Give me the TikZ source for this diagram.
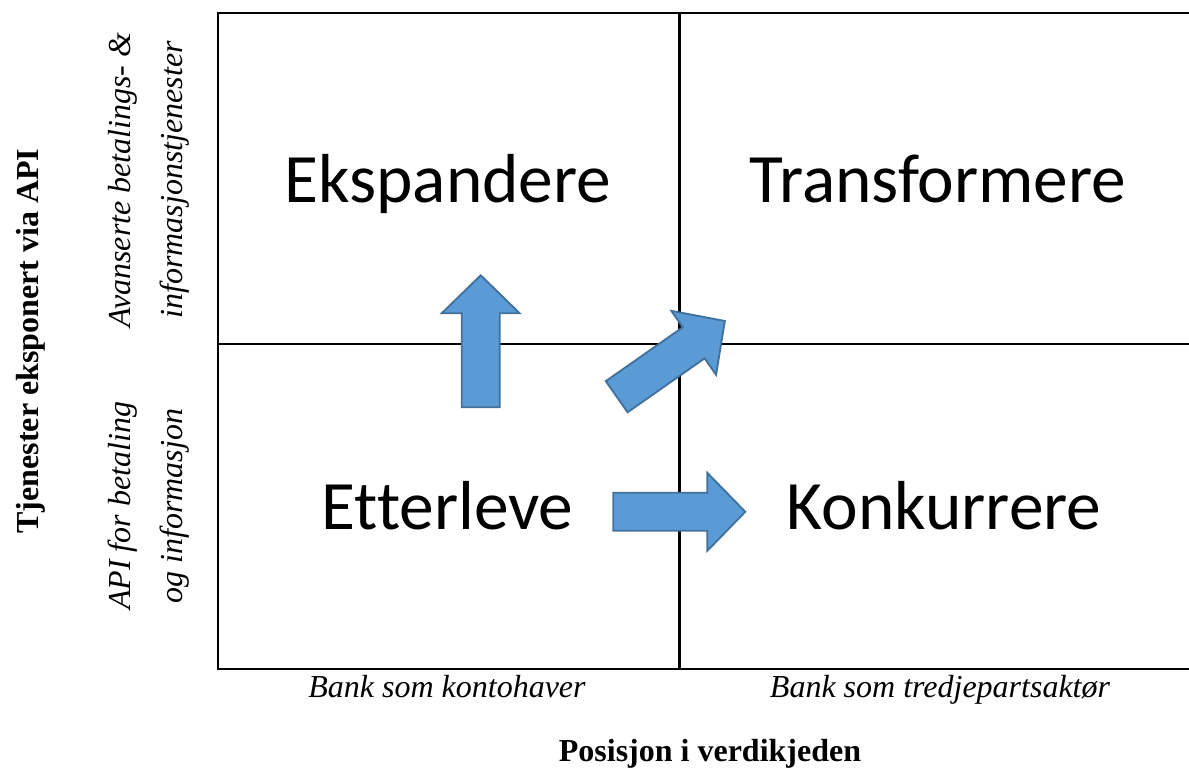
\documentclass[tikz,border=0pt]{standalone}
\usepackage{fontspec}
\setmainfont{Liberation Serif}
\newfontfamily\quadfont[Ligatures=NoCommon]{Carlito}
\definecolor{arrowfill}{HTML}{5B9BD5}
\definecolor{arrowline}{HTML}{41719C}
\begin{document}
\begin{tikzpicture}[x=0.75pt,y=-0.75pt,
  gridline/.style={line width=1.9pt,black},
  quadlabel/.style={font=\quadfont\fontsize{52}{62}\selectfont, anchor=base, inner sep=0pt},
  axislabel/.style={font=\fontsize{24}{29}\selectfont\itshape, anchor=base, inner sep=0pt},
  axistitle/.style={font=\fontsize{24}{29}\selectfont\bfseries, anchor=base, inner sep=0pt},
  movearrow/.style={fill=arrowfill, draw=arrowline, line width=1.4pt, line join=miter},
  fatarrow/.pic={\path[movearrow] (0,-19) -- (94,-19) -- (94,-39) -- (132,0)
      -- (94,39) -- (94,19) -- (0,19) -- cycle;}
]
\useasboundingbox (0,0) rectangle (1189,769);

% matrix frame (open on the right)
\draw[gridline] (1189,13) -- (218,13) -- (218,669) -- (1189,669);
\draw[gridline] (218,344) -- (1189,344);
\draw[gridline] (679.5,13) -- (679.5,669);

% quadrant names
\node[quadlabel] (ekspandere)   at (448,202) {Ekspandere};
\node[quadlabel] (transformere) at (938,202) {Transformere};
\node[quadlabel] (etterleve)    at (447.5,529) {Etterleve};
\node[quadlabel] (konkurrere)   at (944,529)   {Konkurrere};

% movement arrows
\pic[rotate=90] (opp)    at (480.7,407.3) {fatarrow};
\pic[rotate=35] (skraa)  at (616.7,396.7) {fatarrow};
\pic            (hoyre)  at (613.3,511.8) {fatarrow};

% horizontal axis
\node[axislabel] (kontohaver) at (447,697) {Bank som kontohaver};
\node[axislabel] (tredjepart) at (940,697) {Bank som tredjepartsaktør};
\node[axistitle] (xtitle)     at (710,761) {Posisjon i verdikjeden};

% vertical axis
\node[axistitle, rotate=90] (ytitle)    at (38,341)  {Tjenester eksponert via API};
\node[axislabel, rotate=90] (avansert1) at (130,180) {Avanserte betalings- \&};
\node[axislabel, rotate=90] (avansert2) at (182,180) {informasjonstjenester};
\node[axislabel, rotate=90] (api1)      at (130,506) {API for betaling};
\node[axislabel, rotate=90] (api2)      at (182,506) {og informasjon};
\end{tikzpicture}
\end{document}
